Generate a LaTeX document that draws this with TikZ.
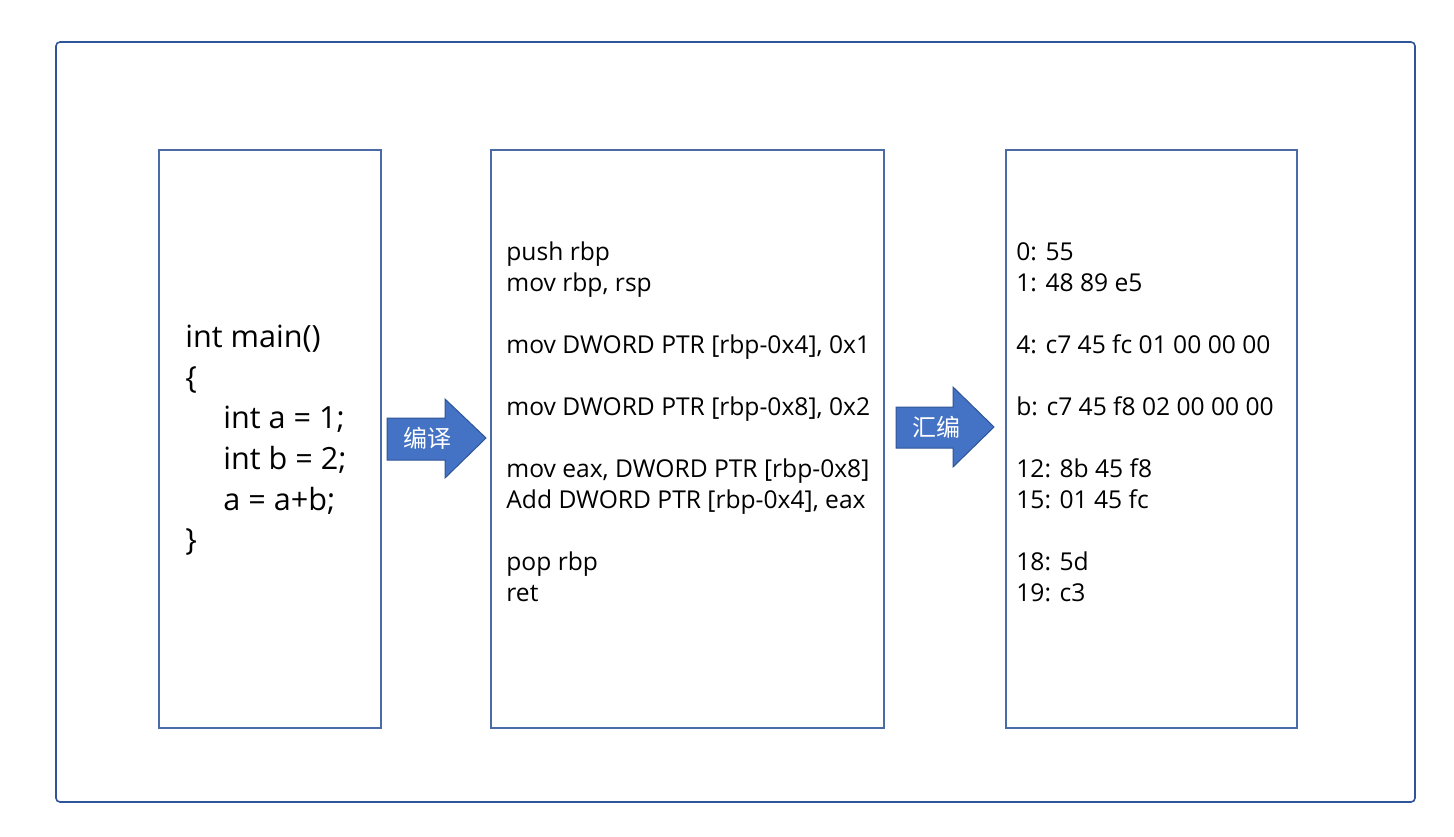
\documentclass[tikz,border=0pt]{standalone}
\usepackage{fontspec}
\setmainfont{Open Sans}
\newfontfamily\cjk{Noto Sans CJK SC}
\definecolor{frameblue}{HTML}{2F5597}
\definecolor{boxblue}{HTML}{4A6AA8}
\definecolor{arrowfill}{HTML}{4472C4}
\definecolor{arrowline}{HTML}{2F5597}
\begin{document}
\begin{tikzpicture}[x=0.5pt,y=-0.5pt,
  frame/.style={draw=frameblue,line width=0.8pt,rounded corners=2pt},
  codebox/.style={draw=boxblue,line width=0.6pt},
  bigcode/.style={anchor=base west,inner sep=0pt,font=\fontsize{15.3pt}{18pt}\selectfont,text=black},
  smallcode/.style={anchor=base west,inner sep=0pt,font=\fontsize{12.3pt}{14pt}\selectfont,text=black},
  blockarrow/.style={fill=arrowfill,draw=arrowline,line width=0.5pt},
  arrowlabel/.style={inner sep=0pt,text=white,font=\cjk\fontsize{12pt}{14pt}\selectfont}]
\useasboundingbox (0,0) rectangle (1454,836);
\fill[white] (0,0) rectangle (1454,836);
\draw[frame] (56,42) rectangle (1415,802);
% boxes
\draw[codebox] (159,150) rectangle (381,728);
\draw[codebox] (491,150) rectangle (884,728);
\draw[codebox] (1006,150) rectangle (1297,728);
% left code
\node[bigcode] (l1) at (185,347) {int main()};
\node[bigcode] (l2) at (185,388) {\{};
\node[bigcode] (l3) at (223,428) {int a = 1;};
\node[bigcode] (l4) at (223,469) {int b = 2;};
\node[bigcode] (l5) at (223,510) {a = a+b;};
\node[bigcode] (l6) at (185,550) {\}};
% middle code
\node[smallcode] (m1) at (506,260) {push rbp};
\node[smallcode] (m2) at (506,291) {mov rbp, rsp};
\node[smallcode] (m3) at (506,353) {mov DWORD PTR [rbp-0x4], 0x1};
\node[smallcode] (m4) at (506,415) {mov DWORD PTR [rbp-0x8], 0x2};
\node[smallcode] (m5) at (506,477) {mov eax, DWORD PTR [rbp-0x8]};
\node[smallcode] (m6) at (506,508) {Add DWORD PTR [rbp-0x4], eax};
\node[smallcode] (m7) at (506,570) {pop rbp};
\node[smallcode] (m8) at (506,601) {ret};
% right code
\node[smallcode] (r1) at (1016,260) {0: 55};
\node[smallcode] (r2) at (1016,291) {1: 48 89 e5};
\node[smallcode] (r3) at (1016,353) {4: c7 45 fc 01 00 00 00};
\node[smallcode] (r4) at (1016,415) {b: c7 45 f8 02 00 00 00};
\node[smallcode] (r5) at (1016,477) {12: 8b 45 f8};
\node[smallcode] (r6) at (1016,508) {15: 01 45 fc};
\node[smallcode] (r7) at (1016,570) {18: 5d};
\node[smallcode] (r8) at (1016,601) {19: c3};
% arrows
\draw[blockarrow] (387,418) -- (445,418) -- (445,399) -- (486,438) -- (445,478) -- (445,460) -- (387,460) -- cycle;
\node[arrowlabel] (a1) at (427,438) {编译};
\draw[blockarrow] (896,407) -- (953,407) -- (953,387) -- (994,427) -- (953,467) -- (953,448) -- (896,448) -- cycle;
\node[arrowlabel] (a2) at (936,427) {汇编};
\end{tikzpicture}
\end{document}
